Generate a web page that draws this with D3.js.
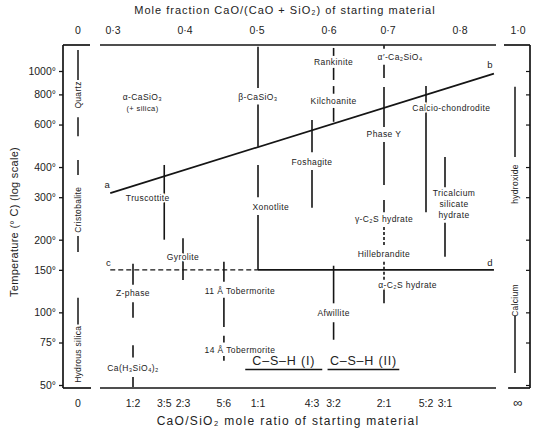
<!DOCTYPE html>
<html>
<head>
<meta charset="utf-8">
<script src="https://cdn.jsdelivr.net/npm/d3@7"></script>
<style>
  body { margin: 0; background: #fff; }
  svg text { font-family: "Liberation Sans", Arial, sans-serif; fill: #222; }
</style>
</head>
<body>
<svg id="chart" width="536" height="431"></svg>
<script>
// temperature ticks, deg C (log scale)
const tempTicks = [50, 75, 100, 150, 200, 300, 400, 600, 800, 1000];
// top axis: mole fraction CaO/(CaO + SiO2)
const fracTicks = [0.3, 0.4, 0.5, 0.6, 0.7, 0.8];
// bottom axis: CaO/SiO2 mole ratios
const ratioTicks = [[1, 2], [3, 5], [2, 3], [5, 6], [1, 1], [4, 3], [3, 2], [2, 1], [5, 2], [3, 1]];

// vertical phase lines: ratio [Ca, Si] and [Thigh, Tlow] segments
const phaseSegs = [
  { r: [1, 2], seg: [[159, 130], [110, 95], [73, 65], [54, 49]] },
  { r: [3, 5], seg: [[408, 200]] },
  { r: [2, 3], seg: [[203, 136]] },
  { r: [5, 6], seg: [[162, 134], [115, 87], [80, 75], [66, 63]] },
  { r: [1, 1], seg: [[1260, 850], [726, 485], [408, 300], [253, 150]] },
  { r: [4, 3], seg: [[627, 461], [389, 271]] },
  { r: [3, 2], seg: [[1246, 1155], [1030, 918], [866, 805], [703, 616], [156, 109], [91, 77]] },
  { r: [2, 1], seg: [[1280, 1236], [1061, 936], [858, 586], [508, 337], [292, 260], [126, 109]] },
  { r: [2, 1], dash: true, seg: [[226, 190], [162, 136]] },
  { r: [5, 2], seg: [[866, 260]] },
  { r: [3, 1], seg: [[440, 330], [235, 170]] }
];

// phase names: mole fraction, temperature, anchor
const phaseLabels = [
  { t: 'α-CaSiO₃', f: 0.346, T: 780 },
  { t: '(+ silica)', f: 0.346, T: 700, small: true },
  { t: 'β-CaSiO₃', f: 0.5, T: 780 },
  { t: 'Rankinite', f: 0.6, T: 1090 },
  { t: 'Kilchoanite', f: 0.6, T: 751 },
  { t: 'α′-Ca₂SiO₄', f: 0.685, T: 1145 },
  { t: 'Calcio-chondrodite', f: 0.762, T: 703 },
  { t: 'Phase Y', f: 2 / 3, T: 548 },
  { t: 'Foshagite', f: 4 / 7, T: 420 },
  { t: 'Truscottite', f: 0.353, T: 297 },
  { t: 'Xonotlite', f: 0.517, T: 273 },
  { t: 'Tricalcium', f: 0.767, T: 312 },
  { t: 'silicate', f: 0.767, T: 281 },
  { t: 'hydrate', f: 0.767, T: 253 },
  { t: 'γ-C₂S hydrate', f: 2 / 3, T: 244 },
  { t: 'Gyrolite', f: 0.4, T: 170 },
  { t: 'Hillebrandite', f: 2 / 3, T: 175 },
  { t: 'Z-phase', f: 1 / 3, T: 120 },
  { t: '11 Å Tobermorite', f: 0.476, T: 122 },
  { t: 'α-C₂S hydrate', f: 0.659, T: 130, anchor: 'start' },
  { t: 'Afwillite', f: 0.6, T: 99 },
  { t: '14 Å Tobermorite', f: 0.476, T: 70 },
  { t: 'Ca(H₃SiO₄)₂', f: 1 / 3, T: 59 }
];

// C-S-H composition ranges (mole fraction)
const cshBands = [
  { t: 'C–S–H (I)', f0: 0.483, f1: 0.585, T: 58 },
  { t: 'C–S–H (II)', f0: 0.592, f1: 0.684, T: 58 }
];

// boundary lines a-b and c-d
const lineAB = [{ f: 0.303, T: 312 }, { f: 0.842, T: 975 }];
const lineCD = [{ f: 0.303, T: 150 }, { f: 0.5, T: 150 }, { f: 0.842, T: 150 }];

// silica (x = 0) and calcium hydroxide (x = 1) columns
const silicaLabels = [{ t: 'Quartz', T: 796 }, { t: 'Cristobalite', T: 266 }, { t: 'Hydrous silica', T: 67 }];
const silicaSegs = [[1223, 918], [643, 537], [428, 371], [207, 178], [115, 89]];
const limeLabels = [{ t: 'hydroxide', T: 340 }, { t: 'Calcium', T: 112 }];
const limeSegs = [[860, 440], [97, 56]];

const svg = d3.select('#chart');
const ink = '#151515';

const y = d3.scaleLog().domain([50, 1000]).range([385, 71]);
// printed composition axis is slightly uneven, so piecewise
const x = d3.scaleLinear().domain([1 / 3, 0.5, 2 / 3, 5 / 7, 0.75]).range([133, 258, 384, 426, 445]);
const xTop = d3.scaleLinear().domain([0.3, 0.6, 0.7, 0.8]).range([113, 329, 388, 460]);
const frac = r => r[0] / (r[0] + r[1]);

const frameTop = 45, frameBottom = 388;
const leftAxis = 63, rightAxis = 530, silicaX = 78, limeX = 515;

// frames
const frame = [
  [leftAxis, frameTop, 90, frameTop], [leftAxis, frameBottom, 91, frameBottom], [leftAxis, frameTop, leftAxis, frameBottom],
  [100, frameTop, 496, frameTop], [100, frameBottom, 496, frameBottom],
  [504, frameTop, rightAxis, frameTop], [508, frameBottom, rightAxis, frameBottom], [rightAxis, frameTop, rightAxis, frameBottom]
];
svg.append('g').selectAll('line').data(frame).join('line')
  .attr('x1', d => d[0]).attr('y1', d => d[1]).attr('x2', d => d[2]).attr('y2', d => d[3])
  .attr('stroke', ink).attr('stroke-width', 1.7);

// temperature axis
svg.append('g').attr('transform', `translate(${leftAxis},0)`)
  .call(d3.axisLeft(y).tickValues(tempTicks).tickSize(4).tickFormat(d => d + '°'))
  .call(g => g.select('.domain').remove())
  .call(g => g.selectAll('line').attr('stroke', ink).attr('stroke-width', 1.3))
  .call(g => g.selectAll('text').attr('font-size', 10.5).attr('fill', '#222')
    .attr('font-family', '"Liberation Sans", Arial, sans-serif'));

svg.append('g').attr('transform', `translate(${rightAxis},0)`)
  .call(d3.axisLeft(y).tickValues(tempTicks).tickSize(4).tickFormat(''))
  .call(g => g.select('.domain').remove())
  .call(g => g.selectAll('line').attr('stroke', ink).attr('stroke-width', 1.2));

svg.append('text').attr('transform', 'translate(18,222) rotate(-90)')
  .attr('text-anchor', 'middle').attr('font-size', 11).attr('letter-spacing', 0.3)
  .text('Temperature (° C) (log scale)');

// top axis
svg.append('g').selectAll('text').data(fracTicks).join('text')
  .attr('x', d => xTop(d)).attr('y', 34).attr('text-anchor', 'middle').attr('font-size', 10.5)
  .text(d => String(d).replace('.', '·'));
svg.append('text').attr('x', silicaX).attr('y', 34).attr('text-anchor', 'middle').attr('font-size', 10.5).text('0');
svg.append('text').attr('x', limeX + 3).attr('y', 34).attr('text-anchor', 'middle').attr('font-size', 10.5).text('1·0');
svg.append('text').attr('x', 285).attr('y', 14).attr('text-anchor', 'middle').attr('font-size', 11)
  .attr('letter-spacing', 1).text('Mole fraction CaO/(CaO + SiO₂) of starting material');

// bottom axis
svg.append('g').selectAll('text').data(ratioTicks).join('text')
  .attr('x', d => x(frac(d))).attr('y', 407).attr('text-anchor', 'middle').attr('font-size', 10.5)
  .text(d => d[0] + ':' + d[1]);
svg.append('text').attr('x', silicaX).attr('y', 407).attr('text-anchor', 'middle').attr('font-size', 10.5).text('0');
svg.append('text').attr('x', limeX + 3).attr('y', 407).attr('text-anchor', 'middle').attr('font-size', 13).text('∞');
svg.append('text').attr('x', 288).attr('y', 425).attr('text-anchor', 'middle').attr('font-size', 12)
  .attr('letter-spacing', 1.3).text('CaO/SiO₂ mole ratio of starting material');

// boundary lines
const lineGen = d3.line().x(d => x(d.f)).y(d => y(d.T));
svg.append('path').datum(lineAB).attr('d', lineGen)
  .attr('fill', 'none').attr('stroke', ink).attr('stroke-width', 1.7);
svg.append('path').datum(lineCD.slice(0, 2)).attr('d', lineGen)
  .attr('fill', 'none').attr('stroke', ink).attr('stroke-width', 1.4).attr('stroke-dasharray', '5,3');
svg.append('path').datum(lineCD.slice(1)).attr('d', lineGen)
  .attr('fill', 'none').attr('stroke', ink).attr('stroke-width', 1.7);

const ends = [
  { t: 'a', x: x(lineAB[0].f) - 3, y: y(lineAB[0].T) - 5 },
  { t: 'b', x: x(lineAB[1].f) - 4, y: y(lineAB[1].T) - 6 },
  { t: 'c', x: x(lineCD[0].f) - 2, y: y(lineCD[0].T) - 4 },
  { t: 'd', x: x(lineCD[2].f) - 4, y: y(lineCD[2].T) - 4 }
];
svg.append('g').selectAll('text').data(ends).join('text')
  .attr('x', d => d.x).attr('y', d => d.y).attr('font-size', 9.5).attr('text-anchor', 'middle').text(d => d.t);

// vertical phase lines
const segRows = phaseSegs.flatMap(p => p.seg.map(s => ({ f: frac(p.r), hi: s[0], lo: s[1], dash: p.dash })));
svg.append('g').selectAll('line').data(segRows).join('line')
  .attr('x1', d => x(d.f)).attr('x2', d => x(d.f))
  .attr('y1', d => y(d.hi)).attr('y2', d => y(d.lo))
  .attr('stroke', ink).attr('stroke-width', 1.6)
  .attr('stroke-dasharray', d => d.dash ? '3,2' : null);

// phase labels (white halo breaks the lines they sit on)
svg.append('g').selectAll('text').data(phaseLabels).join('text')
  .attr('x', d => x(d.f)).attr('y', d => y(d.T)).attr('dy', '0.35em')
  .attr('text-anchor', d => d.anchor || 'middle')
  .attr('font-size', d => d.small ? 7.5 : 8.5)
  .attr('letter-spacing', 0.4)
  .attr('stroke', '#fff').attr('stroke-width', 3).attr('paint-order', 'stroke')
  .text(d => d.t);

// C-S-H bands
const csh = svg.append('g').selectAll('g').data(cshBands).join('g');
csh.append('line')
  .attr('x1', d => x(d.f0)).attr('x2', d => x(d.f1)).attr('y1', d => y(d.T)).attr('y2', d => y(d.T))
  .attr('stroke', ink).attr('stroke-width', 1.4);
csh.append('text')
  .attr('x', d => (x(d.f0) + x(d.f1)) / 2).attr('y', d => y(d.T) - 4)
  .attr('text-anchor', 'middle').attr('font-size', 12.5).attr('letter-spacing', 0.8).text(d => d.t);

// silica and calcium hydroxide columns
svg.append('g').selectAll('line').data(silicaSegs).join('line')
  .attr('x1', silicaX).attr('x2', silicaX).attr('y1', d => y(d[0])).attr('y2', d => y(d[1]))
  .attr('stroke', ink).attr('stroke-width', 1.5);
svg.append('g').selectAll('text').data(silicaLabels).join('text')
  .attr('transform', d => `translate(${silicaX + 3},${y(d.T)}) rotate(-90)`)
  .attr('text-anchor', 'middle').attr('font-size', 8.5).attr('letter-spacing', 0.3).text(d => d.t);
svg.append('g').selectAll('line').data(limeSegs).join('line')
  .attr('x1', limeX).attr('x2', limeX).attr('y1', d => y(d[0])).attr('y2', d => y(d[1]))
  .attr('stroke', ink).attr('stroke-width', 1.5);
svg.append('g').selectAll('text').data(limeLabels).join('text')
  .attr('transform', d => `translate(${limeX + 3},${y(d.T)}) rotate(-90)`)
  .attr('text-anchor', 'middle').attr('font-size', 8.5).attr('letter-spacing', 0.3).text(d => d.t);
</script>
</body>
</html>
